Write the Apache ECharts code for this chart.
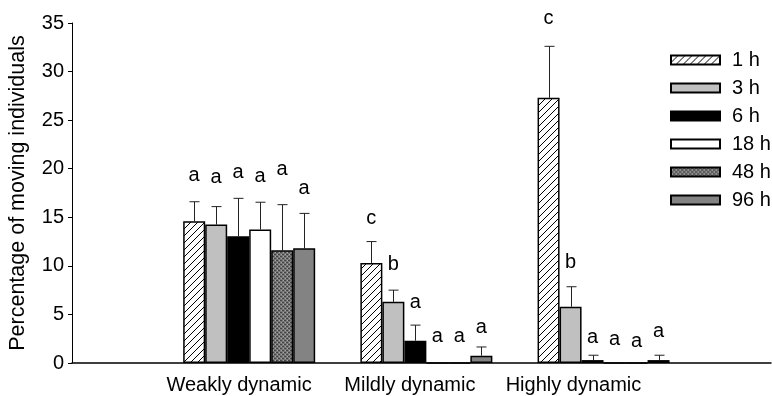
<!DOCTYPE html>
<html>
<head>
<meta charset="utf-8">
<script src="https://cdn.jsdelivr.net/npm/echarts@6/dist/echarts.min.js"></script>
<style>
  html, body { margin: 0; padding: 0; background: #fff; }
  #chart { width: 772px; height: 396px; }
</style>
</head>
<body>
<div id="chart"></div>
<script>
// groups on the x axis (placed at x = 1, 2, 3)
const groups = ['Weakly dynamic', 'Mildly dynamic', 'Highly dynamic'];
const groupLabelAt = [0.943, 1.907, 2.83];
const times = ['1 h', '3 h', '6 h', '18 h', '48 h', '96 h'];

// means, per time point, for the three groups
const mean1h = [14.6, 10.3, 27.3];
const mean3h = [14.25, 6.3, 5.8];
const mean6h = [13.05, 2.3, 0.3];
const mean18h = [13.75, 0, 0];
const mean48h = [11.6, 0, 0];
const mean96h = [11.8, 0.75, 0.3];

// top of the error bars
const top1h = [16.6, 12.5, 32.6];
const top3h = [16.1, 7.5, 7.85];
const top6h = [16.95, 3.9, 0.8];
const top18h = [16.55, 0, 0];
const top48h = [16.3, 0, 0];
const top96h = [15.4, 1.65, 0.8];

// significance letters and the height they are written at
const letters1h = ['a', 'c', 'c'];
const letters3h = ['a', 'b', 'b'];
const letters6h = ['a', 'a', 'a'];
const letters18h = ['a', 'a', 'a'];
const letters48h = ['a', 'a', 'a'];
const letters96h = ['a', 'a', 'a'];
const letterY1h = [19.3, 14.9, 35.5];
const letterY3h = [19.1, 10.1, 10.3];
const letterY6h = [19.6, 6.2, 2.6];
const letterY18h = [19.2, 2.7, 2.4];
const letterY48h = [19.9, 2.7, 2.2];
const letterY96h = [18.0, 3.7, 3.2];

const yTicks = [0, 5, 10, 15, 20, 25, 30, 35];

const means = [mean1h, mean3h, mean6h, mean18h, mean48h, mean96h];
const tops = [top1h, top3h, top6h, top18h, top48h, top96h];
const letters = [letters1h, letters3h, letters6h, letters18h, letters48h, letters96h];
const letterYs = [letterY1h, letterY3h, letterY6h, letterY18h, letterY48h, letterY96h];

const BAR_W = 22;
const FONT = 'Liberation Sans, Arial, Helvetica, sans-serif';

// fill patterns
function hatch() {
  const s = 7;
  const c = document.createElement('canvas');
  c.width = s; c.height = s;
  const g = c.getContext('2d');
  g.fillStyle = '#fff';
  g.fillRect(0, 0, s, s);
  g.strokeStyle = '#000';
  g.lineWidth = 1;
  g.beginPath();
  g.moveTo(-1, s + 1); g.lineTo(s + 1, -1);
  g.moveTo(-1, 1); g.lineTo(1, -1);
  g.moveTo(s - 1, s + 1); g.lineTo(s + 1, s - 1);
  g.stroke();
  return { image: c, repeat: 'repeat' };
}
function speckle() {
  const c = document.createElement('canvas');
  c.width = 4; c.height = 4;
  const g = c.getContext('2d');
  g.fillStyle = '#777';
  g.fillRect(0, 0, 4, 4);
  g.fillStyle = '#444';
  g.fillRect(0, 0, 2, 1); g.fillRect(2, 2, 2, 1);
  g.fillStyle = '#a8a8a8';
  g.fillRect(3, 0, 1, 1); g.fillRect(1, 2, 1, 1);
  return { image: c, repeat: 'repeat' };
}
const fills = [hatch(), '#c0c0c0', '#000000', '#ffffff', speckle(), '#838383'];

const series = times.map((t, ti) => ({
  name: t,
  type: 'bar',
  barWidth: BAR_W,
  barGap: '0%',
  itemStyle: { color: fills[ti], borderColor: '#000', borderWidth: 1.5 },
  data: means[ti].map((v, gi) => [gi + 1, v]),
  z: 3
}));

// error bars (upper only)
const errData = [];
times.forEach((t, ti) => {
  groups.forEach((g, gi) => {
    if (tops[ti][gi] > means[ti][gi]) errData.push([gi + 1, ti, means[ti][gi], tops[ti][gi]]);
  });
});
series.push({
  type: 'custom',
  data: errData,
  encode: { x: 0, y: 3 },
  clip: false,
  z: 2,
  renderItem: function (params, api) {
    const off = (api.value(1) - 2.5) * BAR_W;
    const lo = api.coord([api.value(0), api.value(2)]);
    const hi = api.coord([api.value(0), api.value(3)]);
    const x = Math.round(lo[0] + off) + 0.5;
    const st = { stroke: '#222', lineWidth: 1 };
    return {
      type: 'group',
      children: [
        { type: 'line', shape: { x1: x, y1: lo[1], x2: x, y2: hi[1] }, style: st },
        { type: 'line', shape: { x1: x - 5, y1: hi[1], x2: x + 5, y2: hi[1] }, style: st }
      ]
    };
  }
});

// letters
const letterData = [];
const letterText = [];
times.forEach((t, ti) => {
  groups.forEach((g, gi) => {
    letterData.push([gi + 1, ti, letterYs[ti][gi]]);
    letterText.push(letters[ti][gi]);
  });
});
series.push({
  type: 'custom',
  data: letterData,
  encode: { x: 0, y: 2 },
  clip: false,
  z: 4,
  renderItem: function (params, api) {
    const p = api.coord([api.value(0), api.value(2)]);
    const off = (api.value(1) - 2.5) * BAR_W;
    return {
      type: 'text',
      x: p[0] + off,
      y: p[1],
      style: {
        text: letterText[params.dataIndex],
        fill: '#000',
        font: '20px ' + FONT,
        align: 'center',
        verticalAlign: 'middle'
      }
    };
  }
});

const chart = echarts.init(document.getElementById('chart'));
chart.setOption({
  animation: false,
  backgroundColor: '#fff',
  textStyle: { fontFamily: FONT },
  grid: { left: 72, right: 1, top: 23, bottom: 33, outerBoundsMode: 'none', containLabel: false },
  legend: {
    orient: 'vertical',
    left: 670,
    top: 50,
    padding: 0,
    itemGap: 8,
    itemWidth: 49,
    itemHeight: 9,
    icon: 'rect',
    data: times,
    textStyle: { fontSize: 20, color: '#000', padding: [0, 0, 0, 7] }
  },
  xAxis: {
    type: 'value',
    min: 0,
    max: 3.945,
    splitLine: { show: false },
    axisTick: { show: false },
    axisLine: { lineStyle: { color: '#000', width: 1.5 } },
    axisLabel: {
      customValues: groupLabelAt,
      fontSize: 20,
      color: '#000',
      margin: 12,
      formatter: function (v) {
        let best = 0;
        groupLabelAt.forEach((p, i) => { if (Math.abs(p - v) < Math.abs(groupLabelAt[best] - v)) best = i; });
        return groups[best];
      }
    }
  },
  yAxis: {
    type: 'value',
    min: yTicks[0],
    max: yTicks[yTicks.length - 1],
    interval: 5,
    name: 'Percentage of moving individuals',
    nameLocation: 'middle',
    nameRotate: 90,
    nameGap: 43,
    nameTextStyle: { fontSize: 21.5, color: '#000' },
    splitLine: { show: false },
    axisLine: { show: true, lineStyle: { color: '#000', width: 1 } },
    axisTick: { show: true, length: 4, lineStyle: { color: '#000' } },
    axisLabel: { fontSize: 20, color: '#000', margin: 8 }
  },
  series: series
});
</script>
</body>
</html>
